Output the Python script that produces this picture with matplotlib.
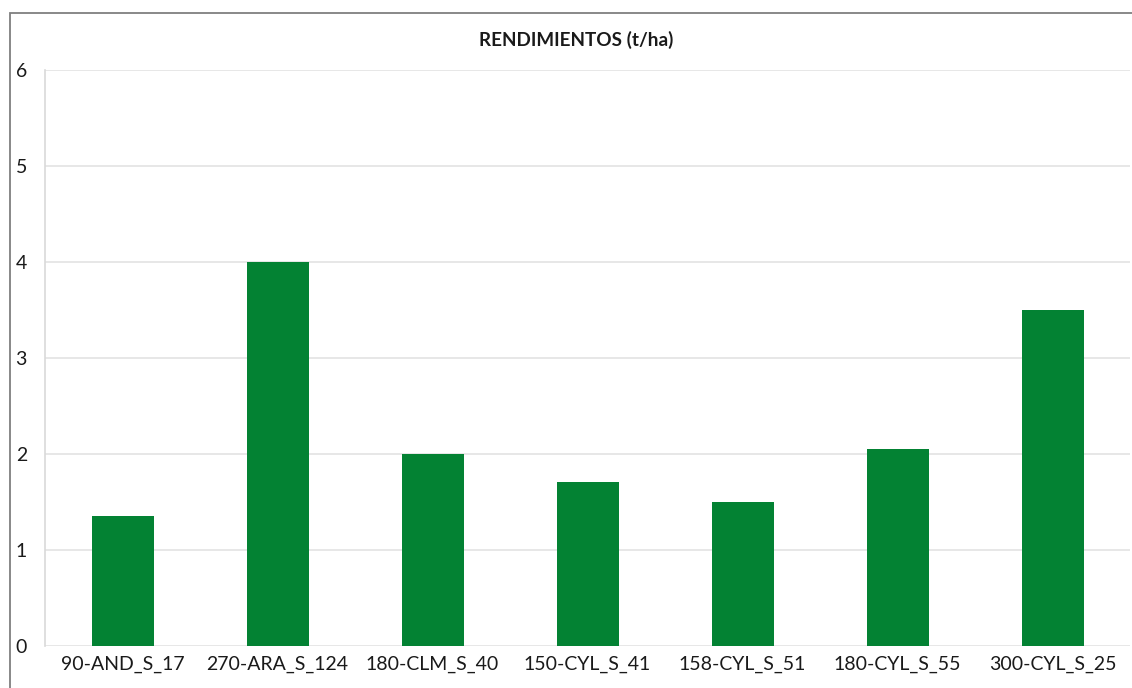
import matplotlib
matplotlib.use("Agg")
import matplotlib.pyplot as plt
from matplotlib.patches import Rectangle

categories = ["90-AND_S_17", "270-ARA_S_124", "180-CLM_S_40", "150-CYL_S_41",
              "158-CYL_S_51", "180-CYL_S_55", "300-CYL_S_25"]
rendimientos = [1.35, 4.0, 2.0, 1.71, 1.5, 2.05, 3.5]
yticks = [0, 1, 2, 3, 4, 5, 6]

plt.rcParams['font.family'] = ['Lato', 'DejaVu Sans']

fig = plt.figure(figsize=(11.32, 6.88), dpi=100)
ax = fig.add_axes([45/1132, 42/688, 1085/1132, 576/688])

x = list(range(len(categories)))
ax.bar(x, rendimientos, width=0.4, color="#038233", zorder=3)

ax.set_xlim(-0.5, len(categories) - 0.5)
ax.set_ylim(0, 6)
ax.set_yticks(yticks)
ax.set_xticks(x)
ax.set_xticklabels(categories, fontsize=14, color="#1a1a1a")
ax.set_yticklabels([str(t) for t in yticks], fontsize=14, color="#1a1a1a")
ax.tick_params(axis="both", length=0)
ax.tick_params(axis="y", pad=13)
ax.tick_params(axis="x", pad=7)

ax.grid(axis="y", color="#e3e3e3", linewidth=1.2, zorder=0)
for s in ["top", "right", "bottom"]:
    ax.spines[s].set_visible(False)
ax.spines["left"].set_color("#d9d9d9")
ax.spines["left"].set_linewidth(1.2)

fig.text(576/1132, 1 - 40/688, "RENDIMIENTOS (t/ha)", ha="center", va="center",
         fontsize=13.6, fontweight="bold", color="#1a1a1a")

# outer chart frame (cropped on the right and bottom)
fig.patches.append(Rectangle((10/1132, -0.05), 1.2, 1 - 13/688 + 0.05,
                             transform=fig.transFigure, fill=False,
                             edgecolor="#7f7f7f", linewidth=1.3))

fig.savefig("out.png", dpi=100)
